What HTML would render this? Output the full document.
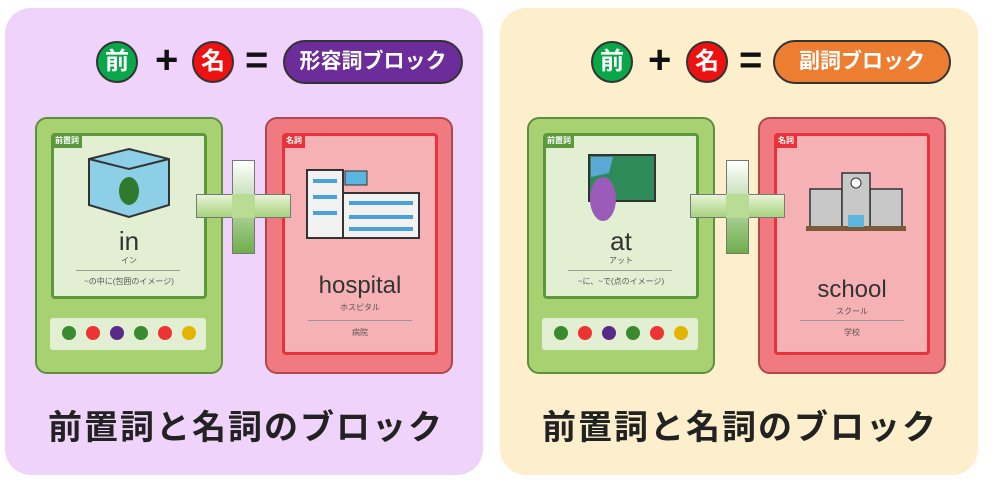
<!DOCTYPE html>
<html><head><meta charset="utf-8"><style>
body{margin:0;width:994px;height:485px;background:#fff;position:relative;overflow:hidden;font-family:"Liberation Sans","Noto Sans CJK JP",sans-serif}
.a{position:absolute;box-sizing:border-box}
.panel{border-radius:26px}
.circ{border-radius:50%;border:2px solid #333;color:#fff;font-weight:bold;font-size:24px;text-align:center;line-height:38px;width:42px;height:42px}
.op{font-size:40px;font-weight:bold;color:#111;line-height:40px}
.pill{border-radius:22px;border:2px solid #333;color:#fff;font-weight:bold;font-size:21px;text-align:center;line-height:40px;height:44px}
.g{background:#a8d272;border:2px solid #5e8f3e;border-radius:12px}
.gi{background:#e3efd3;border:3px solid #5a9a3c;border-radius:4px}
.r{background:#ef7a80;border:2px solid #b0484e;border-radius:12px}
.ri{background:#f5b1b3;border:3px solid #e8333c;border-radius:4px}
.tag{font-size:8px;color:#fff;font-weight:bold;padding:1px 3px;line-height:12px}
.w{font-size:26px;color:#333;text-align:center}
.s{font-size:8px;color:#555;text-align:center}
.hr{height:1px;background:#999}
.dot{width:14px;height:14px;border-radius:50%}
.title{font-size:34px;font-weight:bold;color:#222;letter-spacing:2px;white-space:nowrap}
.pv{background:linear-gradient(#fff,#6fae4a);border:1px solid #777}
.ph{background:linear-gradient(#e8f3d8,#a6d37c);border:1px solid #777}
</style></head><body>
<div class="a panel" style="left:5px;top:8px;width:478px;height:467px;background:#efd3fb"></div>
<div class="a panel" style="left:500px;top:8px;width:478px;height:467px;background:#fdefcb"></div>

<div class="a circ" style="left:96px;top:41px;background:#0aa64a">前</div>
<div class="a op" style="left:155px;top:40px">+</div>
<div class="a circ" style="left:192px;top:41px;background:#ee1111">名</div>
<div class="a op" style="left:245px;top:40px">=</div>
<div class="a pill" style="left:283px;top:40px;width:180px;background:#6c2c9a">形容詞ブロック</div>
<div class="a circ" style="left:591px;top:41px;background:#0aa64a">前</div>
<div class="a op" style="left:648px;top:40px">+</div>
<div class="a circ" style="left:686px;top:41px;background:#ee1111">名</div>
<div class="a op" style="left:739px;top:40px">=</div>
<div class="a pill" style="left:773px;top:40px;width:178px;background:#ed7d31">副詞ブロック</div>

<div class="a g" style="left:35px;top:117px;width:188px;height:257px"></div>
<div class="a gi" style="left:51px;top:133px;width:156px;height:166px"></div>
<div class="a tag" style="left:52px;top:134px;background:#5a9a3c">前置詞</div>
<svg class="a" style="left:87px;top:147px" width="84" height="72"><polygon points="2,12 42,2 82,12 82,58 42,70 2,58" fill="#8ccfe6" stroke="#333" stroke-width="2"/><polyline points="2,12 42,22 82,12" fill="none" stroke="#333" stroke-width="2"/><ellipse cx="42" cy="44" rx="10" ry="14" fill="#2f7a2c"/></svg>
<div class="a w" style="left:51px;top:226px;width:156px">in</div>
<div class="a s" style="left:51px;top:255px;width:156px">イン</div>
<div class="a hr" style="left:76px;top:270px;width:104px"></div>
<div class="a s" style="left:51px;top:276px;width:156px">~の中に(包囲のイメージ)</div>
<div class="a" style="left:50px;top:318px;width:156px;height:32px;background:#e3efd3;border-radius:3px"></div>
<div class="a dot" style="left:62px;top:326px;background:#3a8a2e"></div><div class="a dot" style="left:86px;top:326px;background:#ee3333"></div><div class="a dot" style="left:110px;top:326px;background:#5a2a88"></div>
<div class="a dot" style="left:134px;top:326px;background:#3a8a2e"></div><div class="a dot" style="left:158px;top:326px;background:#ee3333"></div><div class="a dot" style="left:182px;top:326px;background:#e3b400"></div>

<div class="a r" style="left:265px;top:117px;width:188px;height:257px"></div>
<div class="a ri" style="left:282px;top:133px;width:156px;height:222px"></div>
<div class="a tag" style="left:283px;top:134px;background:#e8333c">名詞</div>
<svg class="a" style="left:305px;top:165px" width="116" height="76"><rect x="2" y="5" width="36" height="68" fill="#f2f2f2" stroke="#333" stroke-width="2"/><rect x="38" y="28" width="76" height="45" fill="#f2f2f2" stroke="#333" stroke-width="2"/><rect x="40" y="6" width="22" height="14" fill="#5ab6df" stroke="#333"/><g fill="#4aa0d8"><rect x="8" y="14" width="24" height="4"/><rect x="8" y="30" width="24" height="4"/><rect x="8" y="46" width="24" height="4"/><rect x="44" y="36" width="64" height="4"/><rect x="44" y="50" width="64" height="4"/><rect x="44" y="62" width="64" height="4"/></g></svg>
<div class="a w" style="left:282px;top:272px;width:156px;font-size:24px">hospital</div>
<div class="a s" style="left:282px;top:302px;width:156px">ホスピタル</div>
<div class="a hr" style="left:308px;top:320px;width:104px"></div>
<div class="a s" style="left:282px;top:327px;width:156px">病院</div>

<div class="a pv" style="left:232px;top:160px;width:23px;height:94px"></div>
<div class="a ph" style="left:196px;top:194px;width:95px;height:24px"></div>
<div class="a" style="left:232px;top:194px;width:23px;height:24px;background:#b8dc94"></div>

<div class="a g" style="left:527px;top:117px;width:188px;height:257px"></div>
<div class="a gi" style="left:543px;top:133px;width:156px;height:166px"></div>
<div class="a tag" style="left:544px;top:134px;background:#5a9a3c">前置詞</div>
<svg class="a" style="left:583px;top:153px" width="76" height="72"><rect x="6" y="2" width="66" height="46" fill="#2f8a5a" stroke="#333" stroke-width="2"/><path d="M8 4 L30 4 L26 20 L8 24Z" fill="#5aa8d8"/><ellipse cx="20" cy="46" rx="13" ry="22" fill="#9a5cb8"/></svg>
<div class="a w" style="left:543px;top:226px;width:156px">at</div>
<div class="a s" style="left:543px;top:255px;width:156px">アット</div>
<div class="a hr" style="left:568px;top:270px;width:104px"></div>
<div class="a s" style="left:543px;top:276px;width:156px">~に、~で(点のイメージ)</div>
<div class="a" style="left:542px;top:318px;width:156px;height:32px;background:#e3efd3;border-radius:3px"></div>
<div class="a dot" style="left:554px;top:326px;background:#3a8a2e"></div><div class="a dot" style="left:578px;top:326px;background:#ee3333"></div><div class="a dot" style="left:602px;top:326px;background:#5a2a88"></div>
<div class="a dot" style="left:626px;top:326px;background:#3a8a2e"></div><div class="a dot" style="left:650px;top:326px;background:#ee3333"></div><div class="a dot" style="left:674px;top:326px;background:#e3b400"></div>

<div class="a r" style="left:758px;top:117px;width:188px;height:257px"></div>
<div class="a ri" style="left:774px;top:133px;width:156px;height:222px"></div>
<div class="a tag" style="left:775px;top:134px;background:#e8333c">名詞</div>
<svg class="a" style="left:804px;top:171px" width="104" height="62"><rect x="6" y="18" width="32" height="38" fill="#c8c8c8" stroke="#333" stroke-width="1.5"/><rect x="66" y="18" width="32" height="38" fill="#c8c8c8" stroke="#333" stroke-width="1.5"/><rect x="38" y="2" width="28" height="56" fill="#c8c8c8" stroke="#333" stroke-width="1.5"/><circle cx="52" cy="12" r="5" fill="#fff" stroke="#333"/><rect x="2" y="55" width="100" height="5" fill="#7a5a3a"/><rect x="44" y="44" width="16" height="12" fill="#5ab6df"/></svg>
<div class="a w" style="left:774px;top:276px;width:156px;font-size:24px">school</div>
<div class="a s" style="left:774px;top:306px;width:156px">スクール</div>
<div class="a hr" style="left:800px;top:320px;width:104px"></div>
<div class="a s" style="left:774px;top:327px;width:156px">学校</div>

<div class="a pv" style="left:726px;top:160px;width:23px;height:94px"></div>
<div class="a ph" style="left:690px;top:194px;width:95px;height:24px"></div>
<div class="a" style="left:726px;top:194px;width:23px;height:24px;background:#b8dc94"></div>

<div class="a title" style="left:48px;top:400px">前置詞と名詞のブロック</div>
<div class="a title" style="left:542px;top:400px">前置詞と名詞のブロック</div>
</body></html>
